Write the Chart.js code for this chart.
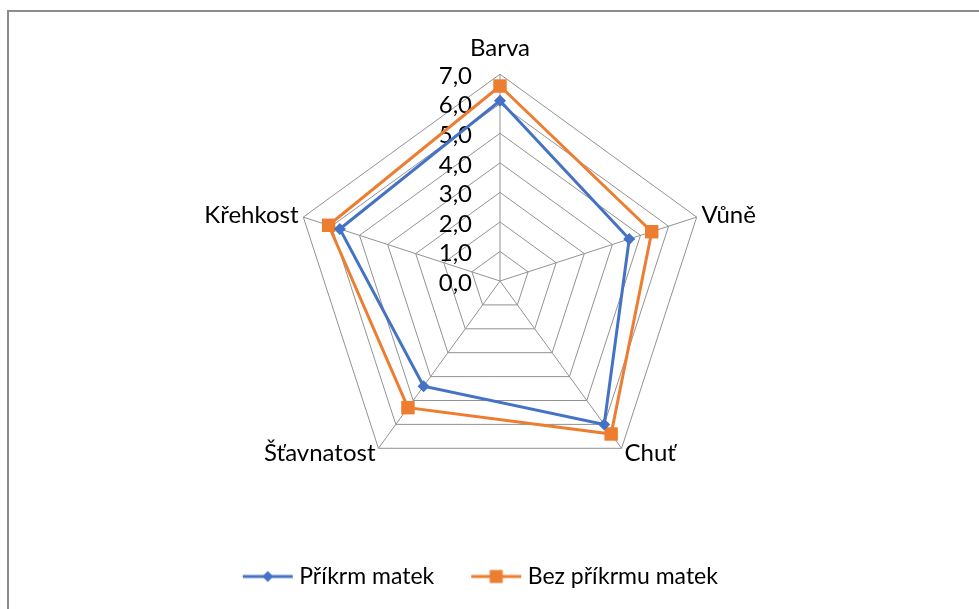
<!DOCTYPE html>
<html>
<head>
<meta charset="utf-8">
<script src="https://cdn.jsdelivr.net/npm/chart.js@4.4.1/dist/chart.umd.min.js"></script>
<style>
  html, body { margin: 0; padding: 0; background: #fff; }
  #wrap { position: relative; width: 979px; height: 609px; overflow: hidden; }
  #frame { position: absolute; left: 7px; top: 10px; width: 1000px; height: 700px; border: 2px solid #8c8c8c; box-sizing: border-box; }
  #chart { position: absolute; left: 0; top: 0; }
</style>
</head>
<body>
<div id="wrap">
  <div id="frame"></div>
  <canvas id="chart" width="979" height="609"></canvas>
</div>
<script>
//  Data
const categories = ['Barva', 'Vůně', 'Chuť', 'Šťavnatost', 'Křehkost'];
const seriesNames = ['Příkrm matek', 'Bez příkrmu matek'];
const prikrm    = [6.1, 4.6, 6.0, 4.4, 5.7];
const bezPrikrm = [6.6, 5.4, 6.4, 5.3, 6.1];
const tickValues = [0, 1, 2, 3, 4, 5, 6, 7];

const BLUE   = '#4472C4';
const ORANGE = '#ED7D31';
const GRID   = '#929292';
const FONT   = 'Lato, "Open Sans", sans-serif';
const FSIZE  = 24;
const LEGEND_FSIZE = 23;

// small line+marker pictures for the legend
function legendIcon(color, shape) {
    const c = document.createElement('canvas');
    c.width = 52; c.height = 16;
    const g = c.getContext('2d');
    g.strokeStyle = color;
    g.lineWidth = 3;
    g.beginPath(); g.moveTo(1, 8); g.lineTo(51, 8); g.stroke();
    g.fillStyle = color;
    g.beginPath();
    if (shape === 'diamond') {
        g.moveTo(26, 2.5); g.lineTo(31.5, 8); g.lineTo(26, 13.5); g.lineTo(20.5, 8);
    } else {
        g.rect(19.5, 1.5, 13, 13);
    }
    g.closePath(); g.fill();
    return c;
}
const icons = [legendIcon(BLUE, 'diamond'), legendIcon(ORANGE, 'square')];

// tick labels left of the top spoke, under the lines
const tickLabelPlugin = {
    id: 'tickLabels',
    beforeDatasetsDraw(chart) {
        const r = chart.scales.r;
        const ctx = chart.ctx;
        ctx.save();
        ctx.font = FSIZE + 'px ' + FONT;
        ctx.fillStyle = '#000';
        ctx.textAlign = 'right';
        ctx.textBaseline = 'middle';
        tickValues.forEach(v => {
            const d = r.getDistanceFromCenterForValue(v);
            ctx.fillText(v.toFixed(1).replace('.', ','), r.xCenter - 28, r.yCenter - d + 2);
        });
        ctx.restore();
    }
};

new Chart(document.getElementById('chart'), {
    type: 'radar',
    data: {
        labels: categories,
        datasets: [{
            label: seriesNames[0],
            data: prikrm,
            borderColor: BLUE,
            backgroundColor: BLUE,
            borderWidth: 3,
            fill: false,
            pointStyle: 'rectRot',
            pointRadius: 6,
            pointBorderWidth: 0,
            pointBackgroundColor: BLUE
        }, {
            label: seriesNames[1],
            data: bezPrikrm,
            borderColor: ORANGE,
            backgroundColor: ORANGE,
            borderWidth: 3,
            fill: false,
            pointStyle: 'rect',
            pointRadius: 9.5,
            pointBorderWidth: 0,
            pointBackgroundColor: ORANGE
        }]
    },
    options: {
        responsive: false,
        animation: false,
        layout: { padding: { left: 31, right: 9, top: 35, bottom: 11 } },
        plugins: {
            tooltip: { enabled: false },
            legend: {
                position: 'bottom',
                title: {
                    display: true,
                    text: ' ',
                    font: { size: 10, lineHeight: 1 },
                    padding: { top: 11, bottom: 0 }
                },
                labels: {
                    usePointStyle: true,
                    pointStyleWidth: 40,
                    padding: 42,
                    color: '#000',
                    font: { family: FONT, size: LEGEND_FSIZE },
                    // trailing spaces pull the centred legend row a little to the left
                    generateLabels: chart => chart.data.datasets.map((ds, i) => ({
                        text: i === 1 ? ds.label + '      ' : ds.label,
                        pointStyle: icons[i],
                        fontColor: '#000',
                        lineWidth: 0,
                        hidden: false,
                        datasetIndex: i
                    }))
                }
            }
        },
        scales: {
            r: {
                min: 0,
                max: 7,
                ticks: { stepSize: 1, display: false },
                grid: { circular: false, color: GRID, lineWidth: 1 },
                angleLines: { color: GRID, lineWidth: 1 },
                pointLabels: {
                    color: '#000',
                    font: { family: FONT, size: FSIZE, lineHeight: 0.05 },
                    padding: ctx => ctx.index === 0 ? 25 : 5
                }
            }
        }
    },
    plugins: [tickLabelPlugin]
});
</script>
</body>
</html>
